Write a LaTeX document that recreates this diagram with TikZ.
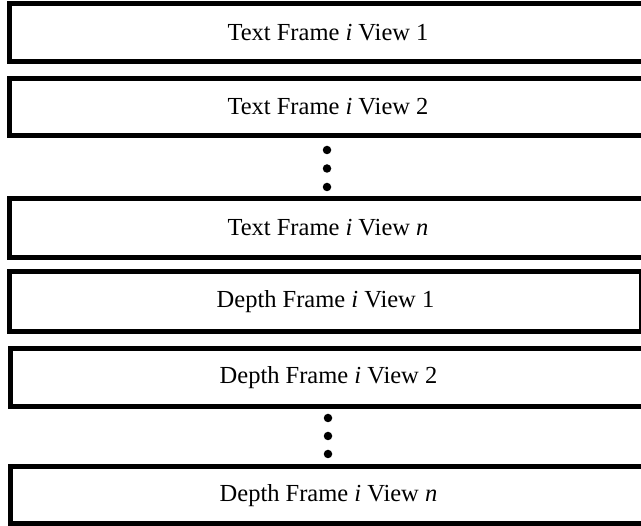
\documentclass[tikz,border=0pt]{standalone}
\usepackage{fontspec}
\setmainfont{Liberation Serif}
\usepackage{tikz}
\usetikzlibrary{positioning}
\tikzset{
  framebox/.style={
    draw=black, fill=white, line width=5pt, rectangle,
    outer sep=0pt, inner sep=0pt, minimum height=58pt,
    font=\fontsize{24.5}{29}\selectfont
  },
  viewdot/.style={circle, fill=black, inner sep=0pt, minimum size=8.5pt}
}
\begin{document}
\begin{tikzpicture}[x=1pt,y=-1pt]
  \fill[white] (0,0) rectangle (641,526);
  \clip (0,0) rectangle (641,526);
  % texture frames
  \node[framebox,minimum width=637pt,minimum height=58pt] (txtone) at (328,33) {Text Frame \textit{i} View 1};
  \node[framebox,minimum width=637pt,minimum height=57.4pt] (txttwo) at (328,107) {Text Frame \textit{i} View 2};
  \node[viewdot] (tdotA) at (327,150) {};
  \node[viewdot] (tdotB) at (327,168.5) {};
  \node[viewdot] (tdotC) at (327,187) {};
  \node[framebox,minimum width=637pt,minimum height=59.2pt] (txtn) at (328,227.9) {Text Frame \textit{i} View \textit{n}};
  % depth frames
  \node[framebox,minimum width=632pt,minimum height=60pt] (depone) at (325.5,301.8) {Depth Frame \textit{i} View 1};
  \node[framebox,minimum width=636pt,minimum height=57.6pt] (deptwo) at (328.5,377.5) {Depth Frame \textit{i} View 2};
  \node[viewdot] (ddotA) at (328,418) {};
  \node[viewdot] (ddotB) at (328,436) {};
  \node[viewdot] (ddotC) at (328,454) {};
  \node[framebox,minimum width=636pt,minimum height=57pt] (depn) at (328.5,495.3) {Depth Frame \textit{i} View \textit{n}};
\end{tikzpicture}
\end{document}
